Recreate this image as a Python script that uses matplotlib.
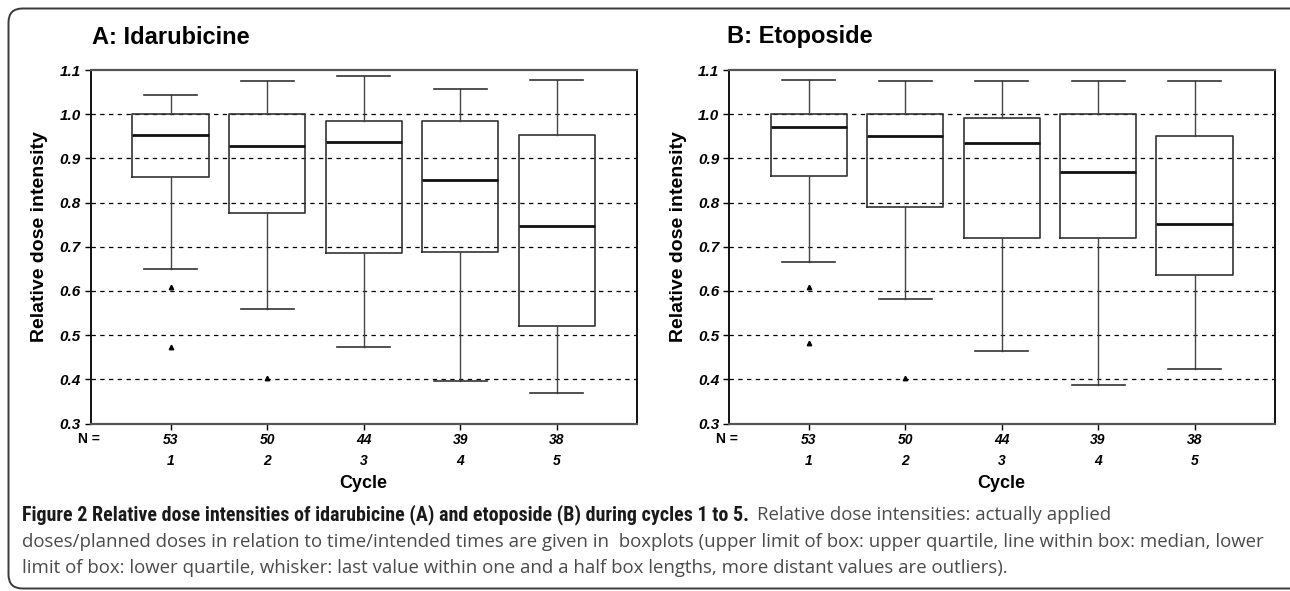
import matplotlib
matplotlib.use('Agg')
import matplotlib.pyplot as plt
from matplotlib.patches import FancyBboxPatch
from matplotlib.transforms import IdentityTransform

# ---------------- data ----------------
cycles = [1, 2, 3, 4, 5]
n_patients = [53, 50, 44, 39, 38]
y_ticks = [0.3, 0.4, 0.5, 0.6, 0.7, 0.8, 0.9, 1.0, 1.1]

ida_whishi = [1.043, 1.075, 1.086, 1.058, 1.077]
ida_q3 = [1.000, 1.000, 0.984, 0.984, 0.952]
ida_med = [0.953, 0.928, 0.938, 0.852, 0.748]
ida_q1 = [0.858, 0.776, 0.686, 0.687, 0.521]
ida_whislo = [0.650, 0.559, 0.472, 0.397, 0.370]
ida_outliers = [[0.608, 0.474], [0.402], [], [], []]

eto_whishi = [1.077, 1.076, 1.076, 1.076, 1.076]
eto_q3 = [1.000, 1.000, 0.992, 1.000, 0.951]
eto_med = [0.970, 0.951, 0.934, 0.869, 0.751]
eto_q1 = [0.860, 0.789, 0.719, 0.719, 0.636]
eto_whislo = [0.666, 0.582, 0.463, 0.387, 0.423]
eto_outliers = [[0.608, 0.482], [0.402], [], [], []]

titles = ["A: Idarubicine", "B: Etoposide"]
y_label = "Relative dose intensity"
x_label = "Cycle"

cap_bold = "Figure 2 Relative dose intensities of idarubicine (A) and etoposide (B) during cycles 1 to 5."
cap_line1 = "Relative dose intensities: actually applied"
cap_line2 = ("doses/planned doses in relation to time/intended times are given in  boxplots (upper limit of box: "
             "upper quartile, line within box: median, lower")
cap_line3 = ("limit of box: lower quartile, whisker: last value within one and a half box lengths, "
             "more distant values are outliers).")

# ---------------- figure ----------------
plt.rcParams['font.family'] = ['Liberation Sans', 'DejaVu Sans']
W, H = 1290, 591
fig = plt.figure(figsize=(W / 100, H / 100), dpi=100)
fig.patch.set_facecolor('white')


def px_axes(left, right, top, bottom):
    return [left / W, 1 - bottom / H, (right - left) / W, (bottom - top) / H]


def draw_panel(rect, whishi, q3, med, q1, whislo, outliers, title, title_x):
    ax = fig.add_axes(rect)
    stats = []
    for i in range(len(cycles)):
        stats.append(dict(med=med[i], q1=q1[i], q3=q3[i], whislo=whislo[i],
                          whishi=whishi[i], fliers=outliers[i], label=str(cycles[i])))
    ax.bxp(stats, positions=cycles, widths=0.79, capwidths=0.55, showfliers=True,
           patch_artist=False,
           boxprops=dict(color='#333333', linewidth=1.2),
           whiskerprops=dict(color='#444444', linewidth=1.0),
           capprops=dict(color='#333333', linewidth=1.2),
           medianprops=dict(color='#111111', linewidth=2.0),
           flierprops=dict(marker='^', markersize=3.2, markerfacecolor='black',
                           markeredgecolor='black', linestyle='none'))
    ax.set_xlim(0.17, 5.83)
    ax.set_ylim(0.3, 1.1)
    for yv in y_ticks[1:-1]:
        ax.axhline(yv, color='black', linewidth=0.9, linestyle=(0, (3.5, 3.5)), zorder=0)
    ax.set_yticks(y_ticks)
    ax.set_yticklabels([f"{v:.1f}" for v in y_ticks])
    ax.set_xticks(cycles)
    ax.set_xticklabels([f"{n}\n{c}" for n, c in zip(n_patients, cycles)])
    ax.tick_params(axis='both', direction='out', length=4, width=1, color='black', pad=3)
    ax.tick_params(axis='x', pad=3)
    for lbl in ax.get_yticklabels():
        lbl.set_fontsize(11)
        lbl.set_fontweight('bold')
        lbl.set_fontstyle('italic')
    for lbl in ax.get_xticklabels():
        lbl.set_fontsize(10)
        lbl.set_fontweight('bold')
        lbl.set_fontstyle('italic')
        lbl.set_linespacing(1.6)
    for s in ['left', 'right']:
        ax.spines[s].set_linewidth(1.4)
        ax.spines[s].set_color('#111111')
    for s in ['top', 'bottom']:
        ax.spines[s].set_linewidth(1.6)
        ax.spines[s].set_color('#555555')
        ax.spines[s].set_linestyle((0, (3, 1)))
    ax.set_ylabel(y_label, fontsize=14, fontweight='bold')
    ax.yaxis.set_label_coords(-0.077, 0.53)
    ax.set_xlabel(x_label, fontsize=13, fontweight='bold')
    ax.xaxis.set_label_coords(0.5, -0.145)
    ax.text(-0.003, -0.0445, "N =", transform=ax.transAxes, ha='center', va='center',
            fontsize=10, fontweight='bold')
    fig.text(title_x / W, 1 - 37 / H, title, ha='left', va='center', fontsize=17,
             fontweight='bold')
    return ax


draw_panel(px_axes(90.5, 636.8, 70, 423.5), ida_whishi, ida_q3, ida_med, ida_q1,
           ida_whislo, ida_outliers, titles[0], 92)
draw_panel(px_axes(729, 1274.5, 70, 423.5), eto_whishi, eto_q3, eto_med, eto_q1,
           eto_whislo, eto_outliers, titles[1], 727)

# ---------------- border ----------------
border = FancyBboxPatch((8.5, 2.5), 1300, 580, boxstyle="round,pad=0,rounding_size=14",
                        transform=IdentityTransform(), facecolor='none',
                        edgecolor='#3a3a3a', linewidth=1.4, zorder=-5)
fig.patches.append(border)

# ---------------- caption ----------------
renderer = fig.canvas.get_renderer()
BOLD_FONT = ['DejaVu Sans Condensed', 'Roboto Condensed', 'Open Sans Condensed',
             'Liberation Sans Narrow', 'Roboto']
REG_FONT = ['Open Sans', 'DejaVu Sans']


def fitted_text(x0, x1, y, s, size, **kw):
    t = fig.text(x0 / W, 1 - y / H, s, ha='left', va='center', fontsize=size, **kw)
    bb = t.get_window_extent(renderer)
    t.set_fontsize(size * (x1 - x0) / bb.width)
    return t


tb = fitted_text(22, 748, 515, cap_bold, 11, fontweight='bold', fontstretch='condensed',
                 family=BOLD_FONT, color='#1a1a1a')
t2 = fitted_text(22, 1265, 542, cap_line2, 11, family=REG_FONT, color='#4a4a4a')
reg_size = t2.get_fontsize()
fig.text(757 / W, 1 - 515 / H, cap_line1, ha='left', va='center', fontsize=reg_size,
         family=REG_FONT, color='#4a4a4a')
fig.text(22 / W, 1 - 568 / H, cap_line3, ha='left', va='center', fontsize=reg_size,
         family=REG_FONT, color='#4a4a4a')

fig.savefig('out.png', dpi=100)
